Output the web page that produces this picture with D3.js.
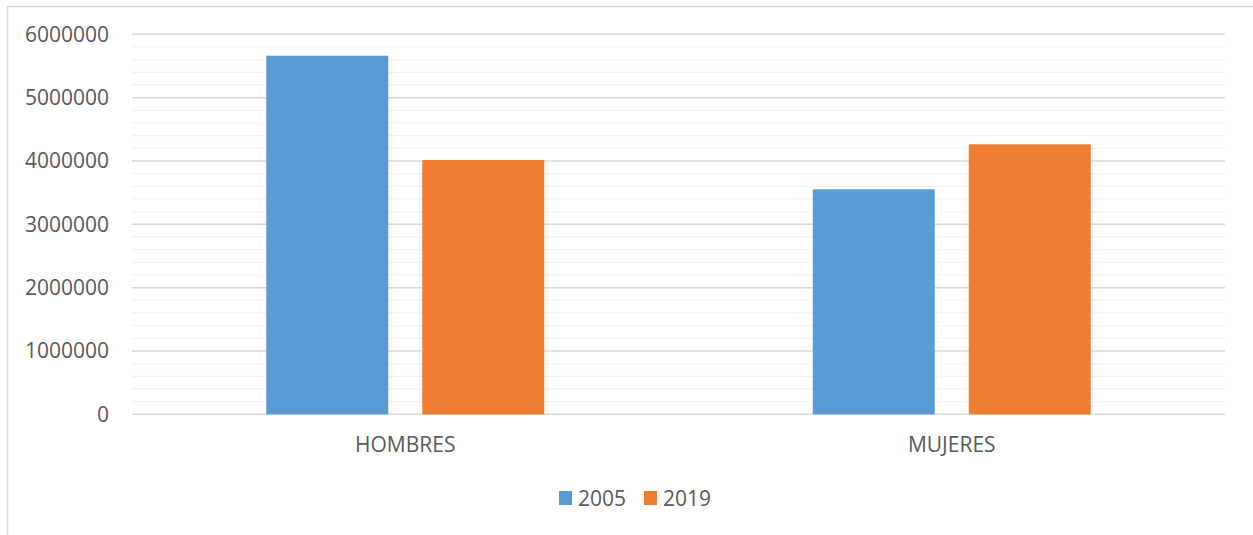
<!DOCTYPE html>
<html>
<head>
<meta charset="utf-8">
<script src="https://cdn.jsdelivr.net/npm/d3@7"></script>
<style>
  body { margin: 0; background: #fff; }
  text { font-family: "Open Sans", sans-serif; fill: #595959; }
</style>
</head>
<body>
<svg width="1253" height="535"></svg>
<script>
// chart data
let categories = ['HOMBRES', 'MUJERES']
let seriesNames = ['2005', '2019']
let values2005 = [5662000, 3553000]
let values2019 = [4015000, 4263000]
let yTicks = [0, 1000000, 2000000, 3000000, 4000000, 5000000, 6000000]
let colors = ['#5b9bd5', '#ed7d31']

let svg = d3.select('svg')

let plotLeft = 132, plotRight = 1225, plotTop = 34.3, plotBottom = 414.3
let fontSize = 21

// outer frame (only left/top visible in the picture)
svg.append('path')
  .attr('d', 'M7.5,535 V6.5 H1253')
  .attr('fill', 'none')
  .attr('stroke', '#d9d9d9')
  .attr('stroke-width', 1.5)

let y = d3.scaleLinear().domain([0, 6000000]).range([plotBottom, plotTop])

let x0 = d3.scaleBand().domain(categories).range([plotLeft, plotRight])
let groupW = 278
let x1 = d3.scaleBand().domain(seriesNames).range([0, groupW]).paddingInner(34 / 156)

// minor grid
let minor = d3.range(0, 6000001, 200000).filter(v => v % 1000000 !== 0)
svg.append('g').selectAll('line')
  .data(minor)
  .enter().append('line')
  .attr('x1', plotLeft).attr('x2', plotRight)
  .attr('y1', d => y(d)).attr('y2', d => y(d))
  .attr('stroke', '#f2f2f2')
  .attr('stroke-width', 1.3)

// major grid
svg.append('g').selectAll('line')
  .data(yTicks)
  .enter().append('line')
  .attr('x1', plotLeft).attr('x2', plotRight)
  .attr('y1', d => y(d)).attr('y2', d => y(d))
  .attr('stroke', '#d9d9d9')
  .attr('stroke-width', 1.5)

// y axis labels
let yAxis = d3.axisLeft(y).tickValues(yTicks).tickFormat(d3.format('d')).tickSize(0).tickPadding(23)
let ya = svg.append('g').attr('transform', `translate(${plotLeft},0)`).call(yAxis)
ya.select('.domain').remove()
ya.selectAll('text')
  .attr('font-size', fontSize)
  .attr('font-family', '"Open Sans", sans-serif')
  .attr('fill', '#595959')

// bars
let rows = categories.map((c, i) => ({ cat: c, vals: [values2005[i], values2019[i]] }))
let groups = svg.append('g').selectAll('g')
  .data(rows)
  .enter().append('g')
  .attr('transform', d => `translate(${x0(d.cat) + (x0.bandwidth() - groupW) / 2},0)`)

groups.selectAll('rect')
  .data(d => d.vals.map((v, j) => ({ s: seriesNames[j], v: v, c: colors[j] })))
  .enter().append('rect')
  .attr('x', d => x1(d.s))
  .attr('width', x1.bandwidth())
  .attr('y', d => y(d.v))
  .attr('height', d => y(0) - y(d.v))
  .attr('fill', d => d.c)

// category labels
let xAxis = d3.axisBottom(x0).tickSize(0).tickPadding(23)
let xa = svg.append('g').attr('transform', `translate(0,${plotBottom})`).call(xAxis)
xa.select('.domain').remove()
xa.selectAll('text')
  .attr('font-size', fontSize)
  .attr('font-family', '"Open Sans", sans-serif')
  .attr('fill', '#595959')

// legend
let legendX = [559, 644]
let legend = svg.append('g').selectAll('g')
  .data(seriesNames)
  .enter().append('g')
  .attr('transform', (d, i) => `translate(${legendX[i]},491)`)

legend.append('rect')
  .attr('width', 13).attr('height', 14)
  .attr('fill', (d, i) => colors[i])

legend.append('text')
  .attr('x', 19).attr('y', 15)
  .attr('font-size', fontSize)
  .text(d => d)
</script>
</body>
</html>
